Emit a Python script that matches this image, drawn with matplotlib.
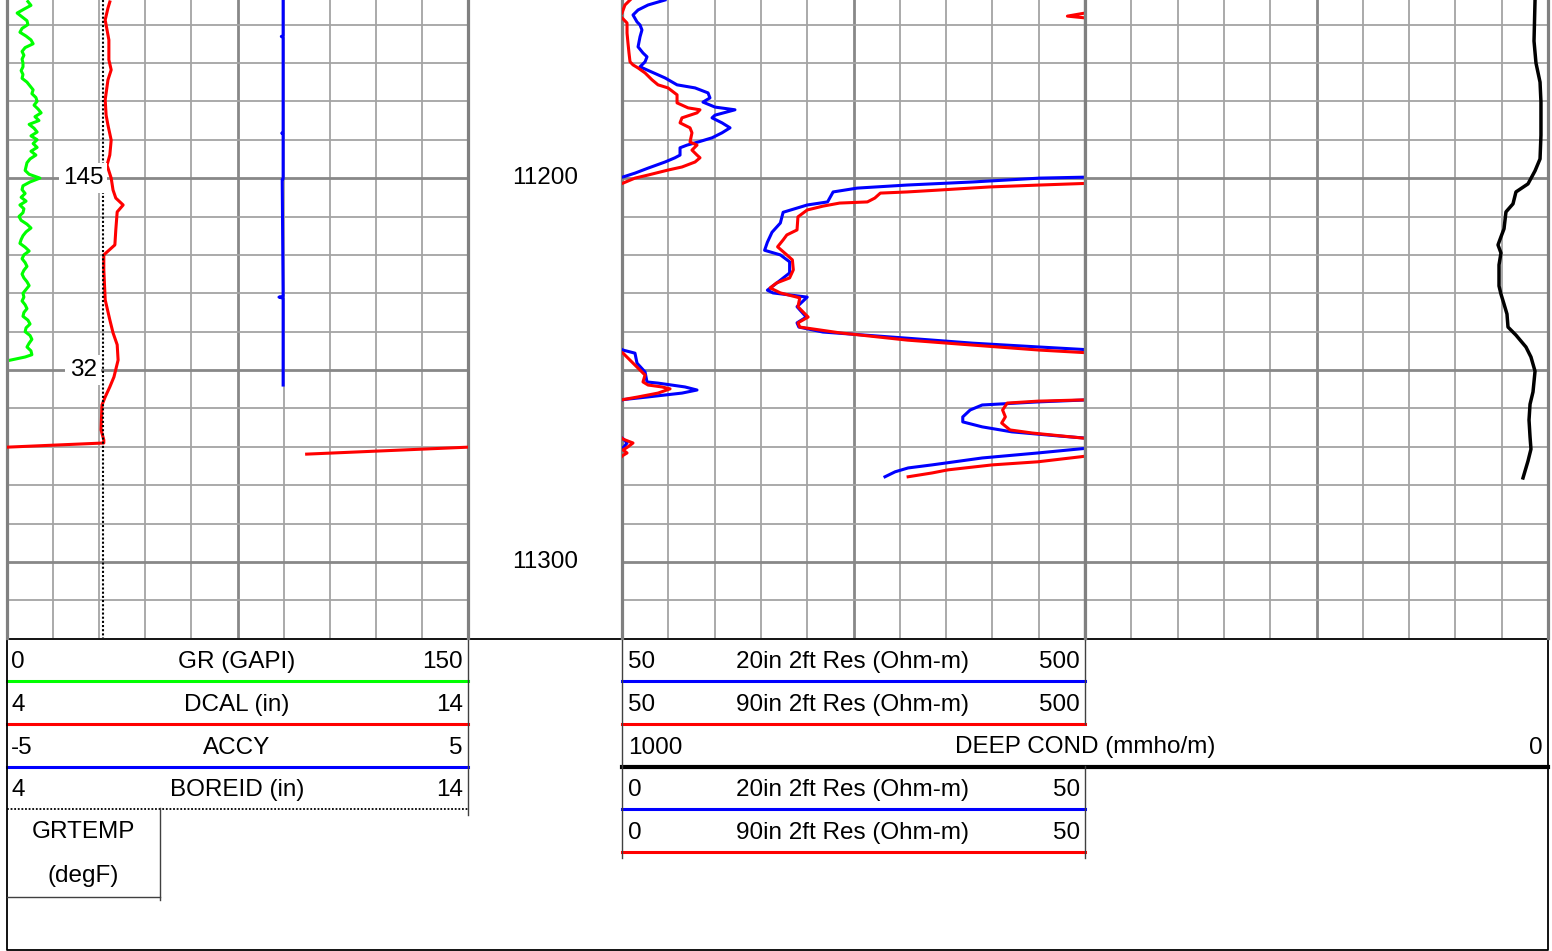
import numpy as np
import matplotlib.pyplot as plt

plt.rcParams['font.family'] = ['Liberation Sans', 'DejaVu Sans']
plt.rcParams['font.size'] = 17.5

W, H = 1552, 951
TOP, BASE = 11153.6, 11319.8

GREEN, RED, BLUE = '#00ff00', '#ff0000', '#0000ff'

# ---- track 1 curves ----
gr_depth = list(range(11154, 11247)) + [11246.6, 11247.6]
gr = [6.8, 7.8, 5.5, 3.3, 4.9, 6.5, 6.8, 4.9, 4.2, 6.2,
      7.8, 8.5, 5.9, 4.9, 5.5, 4.9, 5.2, 5.2, 4.6, 5.2,
      4.9, 6.5, 7.5, 8.5, 8.1, 9.4, 9.8, 8.8, 10.1, 11.1,
      9.1, 10.4, 7.2, 8.8, 9.8, 7.8, 9.8, 8.5, 9.8, 7.8,
      9.4, 7.5, 6.5, 6.2, 5.9, 7.2, 10.7, 7.5, 5.2, 4.9,
      5.9, 4.6, 6.2, 4.2, 5.5, 5.2, 3.9, 4.6, 6.5, 7.8,
      6.2, 5.2, 4.6, 4.2, 5.9, 7.2, 5.5, 4.9, 5.9, 6.5,
      5.5, 4.9, 5.5, 6.5, 7.2, 6.2, 5.2, 5.5, 4.9, 5.9,
      6.5, 5.5, 5.2, 6.8, 7.5, 6.2, 5.9, 7.5, 8.1, 7.2,
      6.5, 7.8, 8.1, 5.9, 0.0]

dcal_depth = [11154.1, 11155.7, 11158.8, 11161.4, 11164.0, 11169.2, 11171.8, 11174.4,
              11179.6, 11183.6, 11186.2, 11190.1, 11194.0, 11196.6, 11200.0, 11203.1,
              11205.2, 11207.0, 11208.8, 11213.5, 11217.4, 11220.0, 11223.9, 11231.7,
              11236.9, 11240.3, 11243.4, 11247.4, 11251.8, 11254.4, 11257.0, 11259.1,
              11265.6, 11268.2, 11269.0, 11271.9]
dcal = [6.23, 6.19, 6.13, 6.17, 6.21, 6.21, 6.26, 6.19,
        6.13, 6.15, 6.19, 6.26, 6.23, 6.17, 6.26, 6.30,
        6.36, 6.52, 6.39, 6.36, 6.34, 6.10, 6.10, 6.13,
        6.23, 6.30, 6.39, 6.41, 6.32, 6.23, 6.13, 6.06,
        6.04, 6.10, 6.10, 0.5]

accy_depth = [11153.6, 11162.9, 11163.1, 11163.4, 11188.1, 11188.3, 11188.5,
              11200.2, 11200.4, 11230.8, 11231.0, 11231.3, 11253.9]
accy = [0.99, 0.99, 0.95, 0.99, 0.99, 0.96, 0.99,
        0.99, 0.97, 0.99, 0.90, 0.99, 0.99]

boreid_depth = [TOP, BASE]
boreid = [6.08, 6.08]

grtemp_depth = [11200, 11250]
grtemp = [145, 32]

# ---- track 3 curves (ohm-m) ----
res20_depth = [11153.6, 11154.9, 11156.2, 11157.5, 11159.3, 11160.1, 11161.4, 11163.2,
               11165.8, 11167.4, 11168.4, 11169.7, 11171.0, 11172.4, 11173.9, 11175.7,
               11176.5, 11177.8, 11179.1, 11180.2, 11181.5, 11182.2, 11183.6, 11184.3,
               11185.6, 11186.9, 11188.2, 11189.5, 11190.6, 11191.4, 11192.1, 11194.0,
               11194.7, 11195.8, 11197.4, 11198.7, 11199.7, 11200.0, 11201.0, 11201.8,
               11202.6, 11203.6, 11204.9, 11206.2, 11207.0, 11208.9, 11211.7, 11214.1,
               11216.7, 11218.8, 11220.0, 11221.8, 11224.7, 11226.6, 11229.2, 11229.9,
               11231.0, 11233.5, 11236.2, 11237.7, 11238.8, 11240.1, 11241.7, 11243.0,
               11244.0, 11244.8, 11245.6, 11248.2, 11250.5, 11253.1, 11253.4, 11254.4,
               11255.2, 11256.0, 11257.0, 11257.7, 11258.3, 11259.1, 11260.4, 11262.2,
               11263.5, 11264.8, 11266.1, 11267.2, 11268.0, 11269.0, 11270.0, 11270.5,
               11271.6, 11272.9, 11274.7, 11275.5, 11276.5, 11277.8]
res20 = [91.8, 75.3, 65.6, 60.7, 64.6, 67.5, 69.4, 67.5,
         65.6, 70.4, 74.3, 72.4, 67.5, 79.2, 91.8, 103.5,
         121.0, 133.6, 135.5, 128.7, 140.4, 159.8, 140.4, 137.5,
         147.2, 155.0, 147.2, 137.5, 123.9, 113.2, 106.4, 106.4,
         101.5, 91.8, 75.3, 62.6, 51.0, 45.1, 37.9, 30.8,
         25.4, 22.8, 22.5, 22.2, 20.0, 17.4, 17.1, 16.2,
         15.7, 15.4, 17.1, 18.1, 18.1, 17.1, 15.7, 16.3,
         20.0, 18.9, 19.9, 18.9, 19.1, 21.7, 30.8, 37.9,
         45.1, 51.0, 62.6, 64.6, 72.4, 74.3, 85.0, 111.2,
         122.9, 108.3, 75.3, 51.0, 44.9, 38.9, 37.6, 36.8,
         36.8, 38.9, 42.1, 47.3, 51.5, 54.9, 52.0, 49.6,
         44.9, 38.9, 33.5, 30.9, 29.5, 28.4]

res90_depth = [11153.6, 11154.9, 11157.0, 11157.8, 11158.5, 11159.6, 11162.2, 11164.8,
               11167.4, 11169.7, 11170.5, 11171.3, 11172.6, 11174.4, 11175.7, 11176.5,
               11178.3, 11180.4, 11181.7, 11182.2, 11183.0, 11184.3, 11185.6, 11186.9,
               11188.2, 11190.6, 11191.4, 11192.7, 11194.0, 11194.7, 11195.8, 11197.1,
               11197.9, 11199.2, 11200.0, 11201.3, 11201.8, 11202.3, 11203.1, 11203.6,
               11203.9, 11205.2, 11206.2, 11206.5, 11207.3, 11208.3, 11210.1, 11213.5,
               11214.8, 11216.1, 11217.9, 11220.0, 11221.3, 11223.9, 11226.0, 11227.3,
               11228.6, 11229.9, 11231.2, 11233.5, 11236.2, 11237.7, 11238.8, 11240.3,
               11242.2, 11243.5, 11244.8, 11245.6, 11248.7, 11250.5, 11251.3, 11253.1,
               11253.9, 11254.4, 11254.9, 11256.0, 11257.0, 11257.7, 11258.1, 11258.6,
               11260.4, 11262.2, 11263.8, 11265.6, 11266.4, 11267.7, 11268.0, 11269.0,
               11270.0, 11270.8, 11271.6, 11272.3, 11272.6, 11273.9, 11274.7, 11276.0,
               11276.8, 11277.8]
res90 = [57.8, 52.9, 50.0, 48.1, 51.0, 54.9, 54.9, 55.8,
         56.8, 57.8, 60.7, 65.6, 72.4, 79.2, 85.0, 94.7,
         103.5, 103.5, 114.2, 125.8, 122.9, 108.3, 106.4, 116.1,
         118.0, 116.1, 122.9, 118.0, 122.9, 125.8, 121.0, 108.3,
         94.7, 75.3, 62.6, 51.0, 45.1, 39.7, 34.3, 30.8,
         27.9, 27.3, 26.5, 23.5, 21.7, 20.0, 19.0, 18.9,
         17.8, 17.4, 16.8, 17.8, 18.4, 18.5, 18.1, 16.7,
         16.0, 17.1, 19.2, 19.0, 20.1, 19.0, 19.2, 23.5,
         30.8, 37.9, 45.1, 51.0, 62.6, 69.4, 72.4, 70.4,
         75.3, 88.9, 96.7, 85.0, 65.6, 51.0, 44.9, 41.6,
         41.1, 41.4, 41.0, 41.9, 44.3, 49.7, 51.0, 60.7,
         55.8, 51.0, 54.9, 50.5, 49.5, 44.9, 40.0, 35.2,
         33.5, 30.9]

# ---- deep conductivity (mmho/m) ----
cond_depth = [11153.6, 11164.3, 11170.0, 11175.0, 11180.2, 11188.8, 11195.0, 11198.1,
              11201.5, 11203.6, 11206.7, 11208.8, 11213.2, 11215.3, 11217.4, 11219.5,
              11222.6, 11228.1, 11230.2, 11232.8, 11235.4, 11238.8, 11240.9, 11244.0,
              11246.6, 11250.3, 11255.7, 11258.9, 11263.0, 11267.4, 11270.6, 11273.7,
              11278.1]
cond = [14.0, 15.1, 13.0, 8.6, 7.6, 7.6, 8.6, 14.0,
        21.6, 34.6, 37.8, 45.4, 47.5, 50.8, 54.0, 50.8,
        52.9, 52.9, 50.8, 47.5, 44.3, 43.2, 34.6, 23.8,
        18.4, 14.0, 16.2, 19.4, 20.5, 19.4, 18.4, 21.6,
        27.0]

depth_marks = [11200, 11300]

fig = plt.figure(figsize=(W / 100, H / 100), dpi=100)


def box(x0, y0, x1, y1):
    return [x0 / W, 1 - y1 / H, (x1 - x0) / W, (y1 - y0) / H]


# header canvas in pixel units
hd = fig.add_axes([0, 0, 1, 1], label='header')
hd.set_xlim(0, W)
hd.set_ylim(H, 0)
hd.axis('off')


def grid_track(x0, x1, lo, hi, name):
    ax = fig.add_axes(box(x0, 0, x1, 638), label=name)
    ax.set_xlim(lo, hi)
    ax.set_ylim(BASE, TOP)
    edges = np.linspace(lo, hi, 11)
    ax.set_xticks([edges[5]])
    ax.set_xticks(list(edges[1:5]) + list(edges[6:10]), minor=True)
    ax.set_yticks([11200, 11250, 11300])
    ax.set_yticks([d for d in range(11160, 11320, 10) if d % 50], minor=True)
    ax.grid(which='minor', color='#a4a4a4', lw=1.3)
    ax.grid(which='major', color='#888888', lw=2.0)
    ax.tick_params(which='both', length=0, labelbottom=False, labelleft=False)
    ax.set_axisbelow(True)
    for s in ('top', 'bottom'):
        ax.spines[s].set_visible(False)
    for s in ('left', 'right'):
        ax.spines[s].set_color('#808080')
        ax.spines[s].set_linewidth(2.3)
    return ax


def overlay(x0, x1, lo, hi, base, name):
    ax = fig.add_axes(box(x0, 0, x1, 638), sharey=base, label=name)
    ax.set_xlim(lo, hi)
    ax.axis('off')
    return ax


LW = 2.2

# track 1
ax1 = grid_track(7, 468, 0, 150, 't1')
ax1.plot(gr, gr_depth, color=GREEN, lw=LW)
a = overlay(7, 468, 4, 14, ax1, 'dcal')
a.plot(dcal, dcal_depth, color=RED, lw=LW)
a = overlay(7, 468, -6, 4, ax1, 'dcal_wrap')
a.plot(dcal, dcal_depth, color=RED, lw=LW)
a = overlay(7, 468, -5, 5, ax1, 'accy')
a.plot(accy, accy_depth, color=BLUE, lw=LW)
a = overlay(7, 468, 4, 14, ax1, 'boreid')
a.plot(boreid, boreid_depth, color='black', lw=1.5, ls=(0, (1, 1)))
for d, v in zip(grtemp_depth, grtemp):
    a.text(0.165, d, str(v), transform=a.get_yaxis_transform(), ha='center', va='center',
           zorder=10, bbox=dict(facecolor='white', edgecolor='none', pad=3))

# depth track
axd = fig.add_axes(box(468, 0, 622, 638), sharey=ax1, label='depth')
axd.axis('off')
for d in depth_marks:
    axd.text(0.5, d, str(d), transform=axd.get_yaxis_transform(), ha='center', va='center')

# track 3 - resistivity with backup scale
ax3 = grid_track(622, 1085, 0, 50, 't3')
ax3b = overlay(622, 1085, 50, 500, ax1, 'res_backup')
for ax in (ax3, ax3b):
    ax.plot(res20, res20_depth, color=BLUE, lw=LW)
    ax.plot(res90, res90_depth, color=RED, lw=LW)

# track 4 - conductivity spans tracks 3 and 4
ax4 = grid_track(1085, 1548, 0, 1, 't4')
axc = overlay(622, 1548, 1000, 0, ax1, 'cond')
axc.plot(cond, cond_depth, color='black', lw=2.5)

# ---- header ----
t1_rows = [('0', 'GR (GAPI)', '150', GREEN, '-'),
           ('4', 'DCAL (in)', '14', RED, '-'),
           ('-5', 'ACCY', '5', BLUE, '-'),
           ('4', 'BOREID (in)', '14', 'black', (0, (1, 1)))]
t3_rows = [('50', '20in 2ft Res (Ohm-m)', '500', BLUE),
           ('50', '90in 2ft Res (Ohm-m)', '500', RED),
           None,
           ('0', '20in 2ft Res (Ohm-m)', '50', BLUE),
           ('0', '90in 2ft Res (Ohm-m)', '50', RED)]
ROW = 42.75

for i, (lo, name, hi, col, ls) in enumerate(t1_rows):
    ty = 660 + ROW * i
    hd.text(11, ty + 2, lo, ha='left', va='center')
    hd.text(237, ty + 2, name, ha='center', va='center')
    hd.text(463, ty + 2, hi, ha='right', va='center')
    lw = 1.3 if col == 'black' else LW
    hd.plot([7, 468], [ty + 21, ty + 21], color=col, lw=lw, ls=ls)

for i, row in enumerate(t3_rows):
    ty = 660 + ROW * i
    if row is None:
        hd.text(628, ty + 2, '1000', ha='left', va='center')
        hd.text(1085, ty + 2, 'DEEP COND (mmho/m)', ha='center', va='center')
        hd.text(1543, ty + 2, '0', ha='right', va='center')
        hd.plot([622, 1548], [ty + 21, ty + 21], color='black', lw=3.0)
        continue
    lo, name, hi, col = row
    hd.text(628, ty + 2, lo, ha='left', va='center')
    hd.text(853, ty + 2, name, ha='center', va='center')
    hd.text(1080, ty + 2, hi, ha='right', va='center')
    hd.plot([622, 1085], [ty + 21, ty + 21], color=col, lw=LW)

hd.text(83, 832, 'GRTEMP', ha='center', va='center')
hd.text(83, 876, '(degF)', ha='center', va='center')

frame = dict(color='black', lw=1.3)
hd.plot([7, 1548], [638.5, 638.5], **frame)
hd.plot([7, 7, 1548, 1548], [638, 949.5, 949.5, 638], **frame)
hd.plot([468, 468], [638, 815], color='#404040', lw=1.0)
hd.plot([622, 622], [638, 858], color='#404040', lw=1.0)
hd.plot([1085, 1085], [638, 724], color='#404040', lw=1.0)
hd.plot([1085, 1085], [766, 858], color='#404040', lw=1.0)
hd.plot([160, 160], [808, 900], color='#404040', lw=1.0)
hd.plot([7, 160], [897, 897], color='#404040', lw=1.0)

fig.savefig('out.png', dpi=100)
